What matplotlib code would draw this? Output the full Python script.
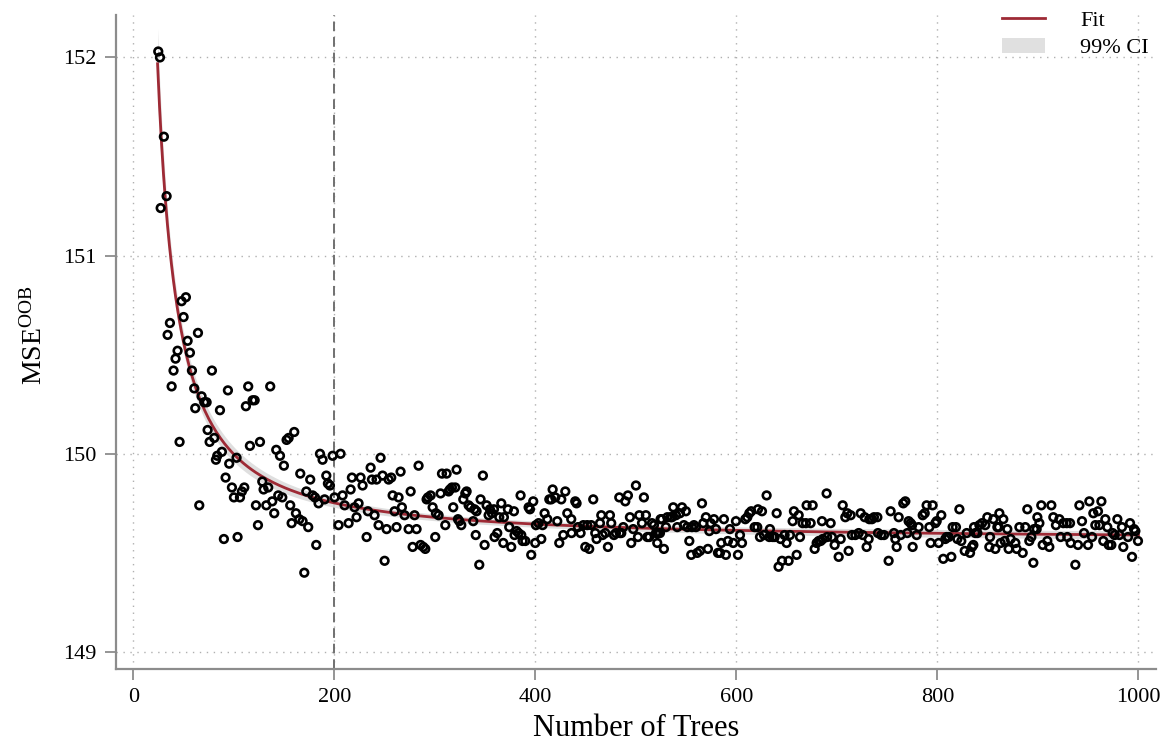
import numpy as np
import matplotlib
matplotlib.use("Agg")
import matplotlib.pyplot as plt
from matplotlib.lines import Line2D
from matplotlib.patches import Patch

plt.rcParams['font.family'] = ['Liberation Serif', 'DejaVu Serif']
plt.rcParams['mathtext.fontset'] = 'custom'
plt.rcParams['mathtext.rm'] = 'Liberation Serif'
plt.rcParams['mathtext.it'] = 'Liberation Serif:italic'

# out-of-bag error per forest size
trees = [
    24.7, 26.4, 27.1, 30.3, 33.0, 34.0, 36.3, 38.0, 39.9, 41.9, 43.9, 45.9, 47.9, 49.9,
    52.2, 53.9, 56.2, 58.2, 60.5, 61.5, 64.2, 65.5, 67.8, 70.5, 72.8, 73.8, 75.8, 78.1,
    80.4, 82.1, 83.4, 86.1, 88.0, 90.0, 91.7, 94.0, 95.3, 98.0, 100.0, 102.6, 103.6, 106.0,
    107.9, 110.3, 111.9, 114.2, 115.9, 118.6, 120.6, 121.9, 123.9, 125.9, 128.2, 129.5, 132.2,
    134.1, 136.1, 138.1, 140.1, 142.1, 144.1, 145.8, 148.1, 149.7, 152.4, 154.4, 156.0, 157.4,
    160.0, 161.7, 165.0, 166.0, 168.3, 170.0, 172.0, 173.9, 175.9, 178.3, 180.6, 181.9, 184.2,
    185.6, 188.2, 190.2, 191.9, 193.5, 195.5, 198.2,
    200.1, 204.1, 206.1, 208.1, 210.1, 214.1, 216.1, 217.4, 220.0, 222.0, 224.0, 226.0, 228.0,
    232.0, 233.3, 236.0, 237.3, 239.9, 241.9, 243.9, 245.9, 247.9, 249.9, 251.9, 253.9, 256.5,
    257.9, 259.8, 261.8, 263.8, 265.8, 267.1, 269.8, 273.8, 275.8, 277.8, 279.7, 281.7, 283.7,
    285.7, 288.4, 290.4, 291.7, 293.0, 295.7, 297.7, 300.3, 301.0, 303.6, 305.6, 307.0, 310.3,
    311.6, 313.6, 314.9, 316.9, 318.2, 320.2, 321.5, 322.9, 324.2, 326.2, 328.2, 330.2, 331.5,
    333.5, 335.5, 338.1, 339.4, 340.6, 341.4, 344.1, 345.4, 347.7, 349.4, 351.4, 353.4, 354.7,
    356.7, 358.7, 359.3, 362.0, 364.0, 366.0, 368.0, 368.6, 372.6, 373.9, 375.9, 378.6, 379.2,
    381.2, 383.2, 385.2, 385.9, 387.2, 389.9, 393.2, 394.5, 395.8, 397.8, 399.8, 400.5, 403.1,
    405.8, 407.1, 409.1, 411.8, 413.8, 415.7, 417.1, 419.7, 421.7, 423.7, 425.7, 427.7, 429.7,
    431.7, 435.6, 435.9, 439.6, 440.9, 442.3,
    444.9, 447.6, 449.6, 451.5, 453.5, 455.5, 457.5, 459.5, 460.8, 464.2, 465.5, 466.8, 469.5,
    472.1, 474.1, 475.4, 478.1, 480.1, 483.4, 483.9, 485.4, 487.4, 489.4, 492.0, 494.0, 495.3,
    497.3, 500.0, 502.0, 503.3, 506.0, 507.9, 509.9, 511.3, 513.2, 515.9, 517.9, 519.9, 521.2,
    521.9, 523.9, 524.5, 525.8, 527.8, 529.8, 531.2, 534.5, 535.8, 537.1, 539.8, 541.1, 543.8,
    545.8, 547.7, 549.7, 551.1, 553.1, 555.0, 555.7, 557.7, 559.7, 561.0, 563.7, 565.7, 567.0,
    569.6, 571.6, 573.0, 574.3, 577.6, 579.6, 581.6, 583.6, 584.9, 587.5, 589.5, 591.5, 593.5,
    596.8, 599.5, 601.5, 603.5, 605.5, 608.8, 610.8, 612.8, 614.7, 618.1, 620.7, 621.4, 623.4,
    625.4, 627.4, 630.0, 632.7, 633.3, 636.0, 638.0, 640.0, 641.9, 643.9, 645.3, 647.9, 649.9,
    651.9, 653.2, 655.9, 657.2, 659.9, 661.9, 663.2, 665.8, 669.1, 669.8,
    673.8, 675.8, 677.8, 679.8, 681.8, 683.8, 685.1, 685.8, 689.7, 690.2, 693.7, 695.0, 697.7,
    701.7, 703.7, 705.7, 708.3, 710.3, 711.6, 713.6, 714.9, 718.3, 721.6, 723.6, 725.6, 727.6,
    729.5, 731.5, 732.2, 734.8, 736.8, 740.2, 740.8, 744.1, 746.8, 751.4, 753.4, 756.7, 758.1,
    759.4, 761.4, 763.4, 766.0, 768.0, 770.0, 771.3, 773.3, 774.7, 775.3, 779.3, 781.3, 785.3,
    787.3, 789.2, 791.9, 793.2, 795.2, 797.9, 799.2, 801.2, 803.8, 805.8, 807.8, 809.2, 811.1,
    813.8, 815.1, 818.4, 819.8, 821.8, 823.7, 827.1, 829.1, 832.4, 834.4, 835.7, 836.4, 837.7,
    839.7, 841.7, 844.3, 847.6, 849.6, 851.6, 852.3, 855.6, 857.6, 859.6, 860.9, 861.6, 862.9,
    865.5, 866.9, 869.5, 870.8, 872.8, 877.5, 878.8, 881.5, 884.8, 887.4, 889.4, 891.4, 893.4,
    895.4, 896.1, 898.7, 899.4, 901.4, 903.3, 904.7, 909.3, 911.3, 913.3, 915.3, 917.9, 921.3,
    922.6, 925.2, 928.6, 929.2, 931.9, 932.5, 937.2, 939.8, 941.2, 943.8, 945.8, 949.8, 951.1,
    953.8, 955.1, 957.1, 959.7, 961.1, 963.1, 965.0, 967.0, 969.0, 970.4, 973.0, 974.3, 976.3,
    979.0, 981.0, 983.6, 984.9, 989.6, 991.6, 993.6, 995.6, 996.9, 999.5,
]
mse = [
    152.03, 152.00, 151.24, 151.60, 151.30, 150.60, 150.66, 150.34, 150.42, 150.48, 150.52, 150.06, 150.77, 150.69,
    150.79, 150.57, 150.51, 150.42, 150.33, 150.23, 150.61, 149.74, 150.29, 150.26, 150.26, 150.12, 150.06, 150.42,
    150.08, 149.97, 149.99, 150.22, 150.01, 149.57, 149.88, 150.32, 149.95, 149.83, 149.78, 149.98, 149.58, 149.78,
    149.81, 149.83, 150.24, 150.34, 150.04, 150.27, 150.27, 149.74, 149.64, 150.06, 149.86, 149.82, 149.74,
    149.83, 150.34, 149.76, 149.70, 150.02, 149.79, 149.99, 149.78, 149.94, 150.07, 150.08, 149.74, 149.65,
    150.11, 149.70, 149.67, 149.90, 149.66, 149.40, 149.81, 149.63, 149.87, 149.79, 149.78, 149.54, 149.75,
    150.00, 149.97, 149.77, 149.89, 149.85, 149.84, 149.99,
    149.78, 149.64, 150.00, 149.79, 149.74, 149.65, 149.82, 149.88, 149.73, 149.68, 149.75, 149.88, 149.84,
    149.58, 149.71, 149.93, 149.87, 149.69, 149.87, 149.64, 149.98, 149.89, 149.46, 149.62, 149.87, 149.88,
    149.79, 149.71, 149.63, 149.78, 149.91, 149.73, 149.69, 149.62, 149.81, 149.53, 149.69, 149.62, 149.94,
    149.54, 149.53, 149.52, 149.77, 149.78, 149.79, 149.73, 149.58, 149.70, 149.69, 149.80, 149.90, 149.64,
    149.90, 149.81, 149.82, 149.83, 149.73, 149.83, 149.92, 149.67, 149.66, 149.64, 149.77, 149.80, 149.81,
    149.74, 149.73, 149.66, 149.72, 149.59, 149.71, 149.44, 149.77, 149.89, 149.54, 149.74, 149.69, 149.72,
    149.70, 149.72, 149.58, 149.60, 149.68, 149.75, 149.55, 149.68, 149.72, 149.63, 149.53, 149.71, 149.59,
    149.61, 149.60, 149.79, 149.59, 149.56, 149.56, 149.73, 149.72, 149.49, 149.76, 149.55, 149.64, 149.65,
    149.57, 149.64, 149.70, 149.67, 149.77, 149.77, 149.82, 149.78, 149.66, 149.55, 149.77, 149.59, 149.81,
    149.70, 149.67, 149.60, 149.76, 149.75, 149.63,
    149.60, 149.64, 149.53, 149.64, 149.52, 149.64, 149.77, 149.60, 149.57, 149.65, 149.69, 149.59, 149.60,
    149.53, 149.69, 149.65, 149.59, 149.60, 149.78, 149.60, 149.60, 149.63, 149.76, 149.79, 149.68, 149.55,
    149.62, 149.84, 149.58, 149.69, 149.65, 149.78, 149.69, 149.58, 149.58, 149.65, 149.64, 149.60, 149.55,
    149.60, 149.60, 149.67, 149.67, 149.52, 149.63, 149.68, 149.68, 149.68, 149.73, 149.69, 149.63, 149.70,
    149.73, 149.64, 149.71, 149.63, 149.56, 149.49, 149.63, 149.64, 149.63, 149.50, 149.51, 149.75, 149.65,
    149.68, 149.52, 149.61, 149.65, 149.67, 149.62, 149.50, 149.50, 149.55, 149.67, 149.49, 149.56, 149.62,
    149.55, 149.66, 149.49, 149.59, 149.55, 149.67, 149.68, 149.70, 149.71, 149.63, 149.63, 149.72, 149.58,
    149.71, 149.59, 149.79, 149.58, 149.62, 149.58, 149.58, 149.70, 149.43, 149.57, 149.46, 149.59, 149.55,
    149.46, 149.59, 149.66, 149.71, 149.49, 149.69, 149.58, 149.65, 149.65, 149.74,
    149.65, 149.74, 149.52, 149.55, 149.56, 149.56, 149.66, 149.57, 149.80, 149.58, 149.65, 149.58, 149.54,
    149.48, 149.57, 149.74, 149.68, 149.70, 149.51, 149.69, 149.59, 149.59, 149.60, 149.70, 149.59, 149.68,
    149.53, 149.57, 149.67, 149.67, 149.68, 149.68, 149.60, 149.59, 149.59, 149.46, 149.71, 149.60, 149.57,
    149.53, 149.68, 149.59, 149.75, 149.76, 149.60, 149.66, 149.65, 149.64, 149.53, 149.59, 149.63, 149.69,
    149.70, 149.74, 149.63, 149.55, 149.74, 149.65, 149.66, 149.55, 149.69, 149.47, 149.57, 149.58, 149.58,
    149.48, 149.63, 149.63, 149.57, 149.72, 149.56, 149.51, 149.60, 149.50, 149.53, 149.54, 149.63, 149.60,
    149.60, 149.64, 149.65, 149.64, 149.68, 149.53, 149.58, 149.67, 149.52, 149.63, 149.63, 149.70, 149.55,
    149.67, 149.56, 149.62, 149.52, 149.57, 149.55, 149.52, 149.63, 149.50, 149.63, 149.72, 149.56, 149.58,
    149.45, 149.62, 149.62, 149.68, 149.65, 149.74, 149.54, 149.56, 149.53, 149.74, 149.68, 149.64, 149.67,
    149.58, 149.65, 149.65, 149.58, 149.65, 149.55, 149.44, 149.54, 149.74, 149.66, 149.60, 149.54, 149.76,
    149.58, 149.70, 149.64, 149.71, 149.64, 149.76, 149.56, 149.67, 149.63, 149.54, 149.54, 149.60, 149.59,
    149.67, 149.59, 149.63, 149.53, 149.58, 149.65, 149.48, 149.62, 149.61, 149.56,
]
cutoff = 200

# fitted curve y = a + b * x^-c, parameters
fit_a, fit_b, fit_c = 149.563, 109.0, 1.2

x = np.array(trees)
y = np.array(mse)

def jac(t):
    return np.column_stack([np.ones_like(t), t ** -fit_c,
                            -fit_b * np.log(t) * t ** -fit_c])

resid = y - (fit_a + fit_b * x ** -fit_c)
sigma2 = np.sum(resid ** 2) / (len(x) - 3)
J = jac(x)
cov = sigma2 * np.linalg.inv(J.T @ J)
xf = np.linspace(24.0, 1000, 500)
yf = fit_a + fit_b * xf ** -fit_c
Jf = jac(xf)
se = np.sqrt(np.einsum('ij,jk,ik->i', Jf, cov, Jf))
z = 2.576

fig = plt.figure(figsize=(11.7, 7.47), dpi=100)
ax = fig.add_axes([0.0991, 0.1044, 0.8889, 0.8755])

ax.grid(True, linestyle=(0, (1, 4)), color='#b0b0b0', linewidth=1.0)
ax.set_axisbelow(True)
ax.axvline(cutoff, color='#707070', linestyle=(0, (5, 3)), linewidth=1.4, zorder=1)

ax.fill_between(xf, yf - z * se, yf + z * se, color='#dcdcdc', alpha=0.9, linewidth=0, zorder=2)
ax.plot(xf, yf, color='#9e2a35', linewidth=2.0, zorder=3)
ax.scatter(x, y, s=30, facecolors='none', edgecolors='black', linewidths=1.9, zorder=4)

ax.set_xlim(-17.4, 1017.4)
ax.set_ylim(148.914, 152.214)
ax.set_xticks([0, 200, 400, 600, 800, 1000])
ax.set_yticks([149, 150, 151, 152])

for s in ['top', 'right']:
    ax.spines[s].set_visible(False)
for s in ['left', 'bottom']:
    ax.spines[s].set_color('#8c8c8c')
    ax.spines[s].set_linewidth(1.6)
ax.tick_params(direction='out', length=8, width=1.3, color='#8c8c8c', labelsize=16, pad=6)

ax.set_xlabel('Number of Trees', fontsize=22, labelpad=5)
ax.set_ylabel(r'MSE$^{\mathrm{OOB}}$', fontsize=20, labelpad=12)
ax.yaxis.set_label_coords(-0.066, 0.51)

handles = [Line2D([], [], color='#9e2a35', linewidth=2.0),
           Patch(facecolor='#e0e0e0', edgecolor='none')]
fig.legend(handles, ['Fit', '99% CI'], loc='upper right', bbox_to_anchor=(0.999, 1.013),
           frameon=False, fontsize=16, handlelength=1.9, handletextpad=1.6, labelspacing=0.3)

fig.savefig('out.png', dpi=100)
